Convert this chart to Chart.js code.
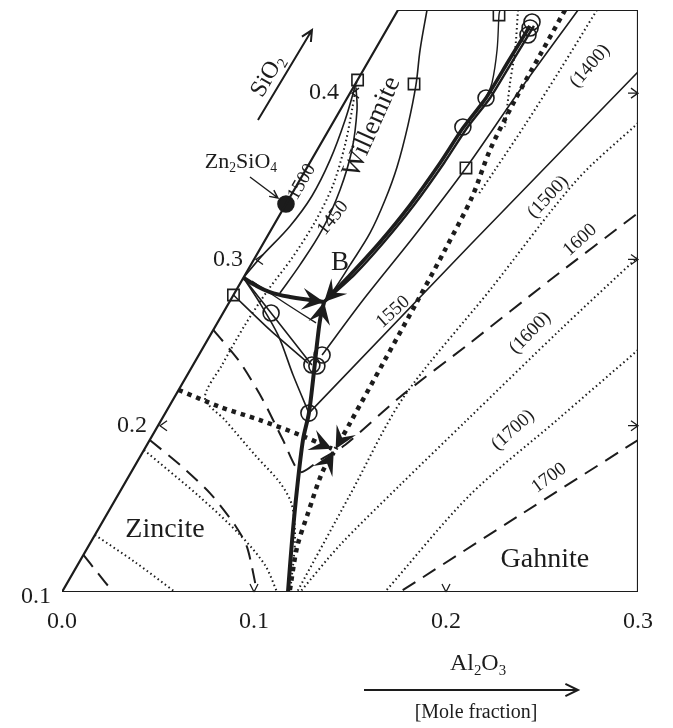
<!DOCTYPE html>
<html>
<head>
<meta charset="utf-8">
<title>ZnO-Al2O3-SiO2</title>
<script src="https://cdn.jsdelivr.net/npm/chart.js@4/dist/chart.umd.min.js"></script>
<style>
  body { margin: 0; background: #fff; }
</style>
</head>
<body>
<canvas id="wykres" width="673" height="728"></canvas>
<script>
// all points are [Al2O3, SiO2] mole fractions
var ramka = [[0, 0.1], [0.3, 0.1], [0.125, 0.45], [0, 0.45], [0, 0.1]];
var tickiDol = [0.0, 0.1, 0.2, 0.3];
var tickiLewo = [0.1, 0.2, 0.3, 0.4];

// thick boundary curves meeting at B
var granicaZW = [[0.000, 0.289], [0.0082, 0.2846], [0.0181, 0.2804], [0.0301, 0.2774], [0.0414, 0.2756], [0.0493, 0.2744]];
var granicaWG = [[0.0735, 0.4404], [0.0729, 0.4187], [0.0723, 0.3971], [0.0693, 0.379], [0.0679, 0.358], [0.0649, 0.3327], [0.0604, 0.3105], [0.0547, 0.2906], [0.0493, 0.2744]];
var granicaWG2 = [[0.0756, 0.4404], [0.0750, 0.4187], [0.0744, 0.3971], [0.0714, 0.379], [0.0700, 0.358], [0.0670, 0.3327], [0.0625, 0.3105], [0.0568, 0.2906], [0.0493, 0.2744]];
var granicaZG = [[0.1177, 0.1], [0.1042, 0.1313], [0.0917, 0.1613], [0.0798, 0.1914], [0.0748, 0.2076], [0.0670, 0.2275], [0.0585, 0.2485], [0.0526, 0.2636], [0.0493, 0.2744]];

// thick dotted boundaries meeting at the second point
var krop1 = [[0.0870, 0.45], [0.0875, 0.423], [0.0880, 0.3959], [0.0900, 0.3658], [0.0948, 0.3375], [0.0966, 0.3057], [0.0976, 0.2756], [0.0984, 0.2395], [0.0992, 0.2016], [0.0995, 0.1860]];
var krop2 = [[0.000, 0.2215], [0.0267, 0.2113], [0.0514, 0.2034], [0.0768, 0.1944], [0.0975, 0.1862]];
var krop3 = [[0.1181, 0.1012], [0.1089, 0.1271], [0.1044, 0.1475], [0.0996, 0.1716], [0.0995, 0.1840]];

// isotherms, solid
var iso1500W = [[0.000, 0.289], [0.003, 0.302], [0.0087, 0.320], [0.0111, 0.338], [0.0097, 0.360], [0.0055, 0.384], [0.000, 0.4065]];
var iso1450 = [[0.0016, 0.4031], [0.0087, 0.3899], [0.0181, 0.3658], [0.0239, 0.3418], [0.0266, 0.3177], [0.0256, 0.2967], [0.0236, 0.2798]];
var isoWprawa = [[0.0151, 0.45], [0.0235, 0.426], [0.0319, 0.4049], [0.0398, 0.3808], [0.0467, 0.3556], [0.0504, 0.3357], [0.0525, 0.3159], [0.0517, 0.2967], [0.0508, 0.2816], [0.0493, 0.2744]];
var isoGora = [[0.0531, 0.45], [0.0541, 0.447], [0.0636, 0.426], [0.0709, 0.4061], [0.0723, 0.3971]];
var isoG1500 = [[0.0938, 0.45], [0.0876, 0.4019], [0.0829, 0.355], [0.0765, 0.3147], [0.0690, 0.2756], [0.0642, 0.2425]];
var iso1550 = [[0.1436, 0.4127], [0.1082, 0.3087], [0.0748, 0.2076]];
var isoLewaA = [[0.000, 0.2786], [0.0295, 0.2576], [0.0593, 0.2377]];
var isoLewaB = [[0.000, 0.289], [0.0143, 0.2756], [0.0352, 0.2546], [0.0551, 0.2305], [0.0748, 0.2076]];
var isoLewaC = [[0.000, 0.289], [0.025, 0.2678], [0.0619, 0.2365]];
var isoLewaD = [[0.0054, 0.287], [0.0292, 0.2738], [0.0514, 0.2618]];

// isotherms, dotted
var kropW = [[0.000, 0.4067], [0.0061, 0.3899], [0.013, 0.3688], [0.0188, 0.3448], [0.0205, 0.3225], [0.0194, 0.3009], [0.0165, 0.2816], [0.015, 0.2606], [0.0151, 0.2365], [0.0161, 0.2167], [0.0332, 0.2034], [0.0593, 0.1824], [0.0808, 0.1656], [0.0936, 0.1523], [0.1057, 0.1313], [0.1188, 0.1]];
var kropGora = [[0.0625, 0.45], [0.073, 0.426], [0.0803, 0.4061], [0.0909, 0.3796]];
var krop1400 = [[0.1036, 0.45], [0.1024, 0.4139], [0.1007, 0.3808], [0.0986, 0.3538], [0.0973, 0.3388]];
var krop1500 = [[0.159, 0.382], [0.1443, 0.3478], [0.1321, 0.2816], [0.1193, 0.2167], [0.1208, 0.1583], [0.1224, 0.1]];
var krop1600 = [[0.1993, 0.3015], [0.1806, 0.2576], [0.1592, 0.2034], [0.1439, 0.1643], [0.1307, 0.1283], [0.124, 0.1]];
var krop1700 = [[0.2272, 0.2455], [0.2061, 0.2034], [0.1833, 0.1583], [0.1682, 0.1]];
var kropZ1 = [[0.000, 0.1854], [0.0433, 0.1571], [0.0756, 0.1343], [0.0976, 0.1162], [0.112, 0.1]];
var kropZ2 = [[0.000, 0.1343], [0.029, 0.118], [0.0589, 0.1]];

// isotherms, dashed
var kres1600 = [[0.000, 0.2576], [0.0235, 0.2383], [0.0469, 0.2155], [0.0694, 0.1914], [0.0879, 0.1722], [0.0947, 0.1794], [0.1032, 0.1884], [0.1174, 0.2173], [0.1376, 0.2497], [0.1604, 0.2876], [0.1860, 0.3279]];
var kres1700 = [[0.2543, 0.1914], [0.2154, 0.1463], [0.176, 0.1]];
var kresZ1 = [[0.000, 0.1914], [0.0233, 0.1764], [0.0473, 0.1595], [0.0699, 0.1403], [0.0828, 0.1271], [0.1016, 0.1]];
var kresZ2 = [[0.000, 0.1223], [0.0122, 0.112], [0.0266, 0.1]];

// experimental points
var kolka = [[0.025, 0.2678], [0.0619, 0.2365], [0.0648, 0.2359], [0.0642, 0.2425], [0.0748, 0.2076], [0.069, 0.3796], [0.0723, 0.3971], [0.0734, 0.4428], [0.0742, 0.4392], [0.0752, 0.435]];
var kwadraty = [[0.000, 0.4079], [0.0306, 0.4055], [0.0541, 0.447], [0.0829, 0.355], [0.000, 0.2786]];
var zn2sio4 = [[0.000, 0.3333]];

// labels: text, position [Al2O3, SiO2], rotation in degrees, font size
var napisy = [
  ['1500', [0.0017, 0.3466], -60, 19],
  ['1450', [0.0287, 0.3249], -51, 19],
  ['Willemite', [0.0216, 0.3796], -66, 27],
  ['B', [0.0458, 0.2979], 0, 27],
  ['(1400)', [0.1168, 0.4163], -49, 19],
  ['(1500)', [0.1344, 0.3375], -47, 19],
  ['1600', [0.164, 0.3117], -42, 19],
  ['1550', [0.0882, 0.2684], -42, 19],
  ['(1600)', [0.1659, 0.2558], -46, 19],
  ['(1700)', [0.1862, 0.1974], -42, 19],
  ['1700', [0.2194, 0.1686], -36, 19],
  ['Zincite', [0.035, 0.1373], 0, 28],
  ['Gahnite', [0.2419, 0.1192], 0, 28]
];

var FONT = '"Liberation Serif", "Times New Roman", serif';
var CZARNY = '#1c1c1c';

function tern(p) {
  return { x: p[0] + (p[1] - 0.1) / 2, y: (p[1] - 0.1) * Math.sqrt(3) / 2 };
}

function linia(dane, szer, kreska, napiecie, grot) {
  return {
    data: dane.map(tern),
    showLine: true,
    borderColor: CZARNY,
    borderWidth: szer,
    borderDash: kreska,
    pointRadius: 0,
    tension: napiecie,
    fill: false,
    grot: grot
  };
}

function punkty(dane, styl, r, wypelnij) {
  return {
    data: dane.map(tern),
    showLine: false,
    pointStyle: styl,
    pointRadius: r,
    pointBorderWidth: 1.6,
    pointBorderColor: CZARNY,
    pointBackgroundColor: wypelnij ? CZARNY : 'rgba(0,0,0,0)'
  };
}

function grotStrzalki(ctx, x, y, kat, d) {
  ctx.save();
  ctx.translate(x, y);
  ctx.rotate(kat);
  ctx.beginPath();
  ctx.moveTo(0, 0);
  ctx.lineTo(-d, -d * 0.5);
  ctx.lineTo(-d * 0.6, 0);
  ctx.lineTo(-d, d * 0.5);
  ctx.closePath();
  ctx.fill();
  ctx.restore();
}

function tekstZIndeksami(ctx, czesci, x, y, rozm) {
  var szer = 0;
  czesci.forEach(function (c) {
    ctx.font = (c[1] ? rozm * 0.62 : rozm) + 'px ' + FONT;
    szer += ctx.measureText(c[0]).width;
  });
  var xx = x - szer / 2;
  ctx.textAlign = 'left';
  czesci.forEach(function (c) {
    ctx.font = (c[1] ? rozm * 0.62 : rozm) + 'px ' + FONT;
    ctx.fillText(c[0], xx, c[1] ? y + rozm * 0.28 : y);
    xx += ctx.measureText(c[0]).width;
  });
}

function strzalka(ctx, x1, y1, x2, y2, d) {
  var kat = Math.atan2(y2 - y1, x2 - x1);
  ctx.beginPath();
  ctx.moveTo(x1, y1);
  ctx.lineTo(x2, y2);
  ctx.moveTo(x2 - d * Math.cos(kat - 0.45), y2 - d * Math.sin(kat - 0.45));
  ctx.lineTo(x2, y2);
  ctx.lineTo(x2 - d * Math.cos(kat + 0.45), y2 - d * Math.sin(kat + 0.45));
  ctx.stroke();
}

var dodatki = {
  id: 'dodatki',
  afterDatasetsDraw: function (chart) {
    var ctx = chart.ctx;
    var sx = chart.scales.x, sy = chart.scales.y;
    function pix(p) {
      var q = tern(p);
      return { x: sx.getPixelForValue(q.x), y: sy.getPixelForValue(q.y) };
    }
    ctx.save();
    ctx.fillStyle = CZARNY;
    ctx.strokeStyle = CZARNY;

    // arrow heads at the end of the boundary curves
    chart.data.datasets.forEach(function (ds, i) {
      if (!ds.grot) return;
      var pts = chart.getDatasetMeta(i).data;
      var a = pts[pts.length - 1], b = pts[pts.length - 2];
      grotStrzalki(ctx, a.x, a.y, Math.atan2(a.y - b.y, a.x - b.x), 22);
    });

    // ticks
    ctx.lineWidth = 1.3;
    tickiDol.slice(1, 3).forEach(function (v) {
      var p = pix([v, 0.1]);
      ctx.beginPath();
      ctx.moveTo(p.x, p.y); ctx.lineTo(p.x - 4, p.y - 8);
      ctx.moveTo(p.x, p.y); ctx.lineTo(p.x + 4, p.y - 8);
      ctx.stroke();
    });
    tickiLewo.slice(1).forEach(function (v) {
      var p = pix([0, v]);
      ctx.beginPath();
      ctx.moveTo(p.x + 9, p.y - 5); ctx.lineTo(p.x + 2, p.y); ctx.lineTo(p.x + 9, p.y + 5);
      ctx.stroke();
      var r = pix([0.3 - (v - 0.1) / 2, v]);
      ctx.beginPath();
      ctx.moveTo(r.x - 10, r.y); ctx.lineTo(r.x, r.y);
      ctx.moveTo(r.x - 7, r.y - 5); ctx.lineTo(r.x, r.y); ctx.lineTo(r.x - 7, r.y + 5);
      ctx.stroke();
    });

    // axis numbers
    ctx.font = '24px ' + FONT;
    ctx.textBaseline = 'middle';
    ctx.textAlign = 'center';
    tickiDol.forEach(function (v) {
      var p = pix([v, 0.1]);
      ctx.fillText(v.toFixed(1), p.x, p.y + 30);
    });
    ctx.textAlign = 'right';
    tickiLewo.forEach(function (v) {
      var p = pix([0, v]);
      ctx.fillText(v.toFixed(1), p.x - 11, p.y + (v === 0.1 ? 5 : 0));
    });

    // labels in the diagram
    napisy.forEach(function (n) {
      var p = pix(n[1]);
      ctx.save();
      ctx.translate(p.x, p.y);
      ctx.rotate(n[2] * Math.PI / 180);
      ctx.font = n[3] + 'px ' + FONT;
      ctx.textAlign = 'center';
      ctx.fillText(n[0], 0, 0);
      ctx.restore();
    });

    // Zn2SiO4 label with pointer
    var z = pix(zn2sio4[0]);
    tekstZIndeksami(ctx, [['Zn', 0], ['2', 1], ['SiO', 0], ['4', 1]], z.x - 45, z.y - 42, 22);
    ctx.lineWidth = 1.4;
    strzalka(ctx, z.x - 36, z.y - 27, z.x - 8, z.y - 6, 9);

    // SiO2 direction
    ctx.lineWidth = 2;
    strzalka(ctx, z.x - 28, z.y - 84, z.x + 26, z.y - 174, 12);
    ctx.save();
    ctx.translate(z.x - 18, z.y - 128);
    ctx.rotate(-60 * Math.PI / 180);
    tekstZIndeksami(ctx, [['SiO', 0], ['2', 1]], 0, 0, 24);
    ctx.restore();

    // Al2O3 direction
    var o = pix([0.2, 0.1]);
    ctx.textAlign = 'left';
    tekstZIndeksami(ctx, [['Al', 0], ['2', 1], ['O', 0], ['3', 1]], o.x + 32, o.y + 72, 24);
    strzalka(ctx, o.x - 82, o.y + 98, o.x + 132, o.y + 98, 14);
    ctx.font = '20px ' + FONT;
    ctx.textAlign = 'center';
    ctx.fillText('[Mole fraction]', o.x + 30, o.y + 121);
    ctx.restore();
  }
};

var wykres = new Chart(document.getElementById('wykres').getContext('2d'), {
  type: 'scatter',
  data: {
    datasets: [
      linia(ramka, 2.2, [], 0, false),
      linia(iso1500W, 1.6, [], 0.35, false),
      linia(iso1450, 1.6, [], 0.35, false),
      linia(isoWprawa, 1.6, [], 0.35, false),
      linia(isoGora, 1.4, [], 0.35, false),
      linia(isoG1500, 1.6, [], 0.3, false),
      linia(iso1550, 1.6, [], 0, false),
      linia(isoLewaA, 1.6, [], 0.2, false),
      linia(isoLewaB, 1.6, [], 0.3, false),
      linia(isoLewaC, 1.6, [], 0, false),
      linia(isoLewaD, 1.4, [], 0.2, false),
      linia(kropW, 2, [1.5, 3], 0.3, false),
      linia(kropGora, 2, [1.5, 3], 0.3, false),
      linia(krop1400, 2, [1.5, 3], 0.3, false),
      linia(krop1500, 2, [1.5, 3], 0.3, false),
      linia(krop1600, 2, [1.5, 3], 0.3, false),
      linia(krop1700, 2, [1.5, 3], 0.3, false),
      linia(kropZ1, 2, [1.5, 3], 0.3, false),
      linia(kropZ2, 2, [1.5, 3], 0.3, false),
      linia(kres1600, 2, [15, 9], 0.25, false),
      linia(kres1700, 2, [15, 9], 0.2, false),
      linia(kresZ1, 2, [15, 9], 0.25, false),
      linia(kresZ2, 2, [15, 9], 0.2, false),
      linia(krop1, 4.5, [4.5, 5], 0.3, true),
      linia(krop2, 4.5, [4.5, 5], 0.3, true),
      linia(krop3, 4.5, [4.5, 5], 0.3, true),
      linia(granicaZW, 4, [], 0.4, true),
      linia(granicaWG2, 2.4, [], 0.2, false),
      linia(granicaWG, 3.6, [], 0.2, true),
      linia(granicaZG, 4, [], 0.3, true),
      punkty(kolka, 'circle', 8, false),
      punkty(kwadraty, 'rect', 8, false),
      punkty(zn2sio4, 'circle', 8, true)
    ]
  },
  options: {
    responsive: false,
    animation: false,
    layout: { padding: { left: 62, right: 35, top: 10, bottom: 136 } },
    plugins: { legend: { display: false }, tooltip: { enabled: false } },
    scales: {
      x: { type: 'linear', min: 0, max: 0.3, display: false },
      y: { type: 'linear', min: 0, max: 0.30311, display: false }
    }
  },
  plugins: [dodatki]
});
</script>
</body>
</html>
